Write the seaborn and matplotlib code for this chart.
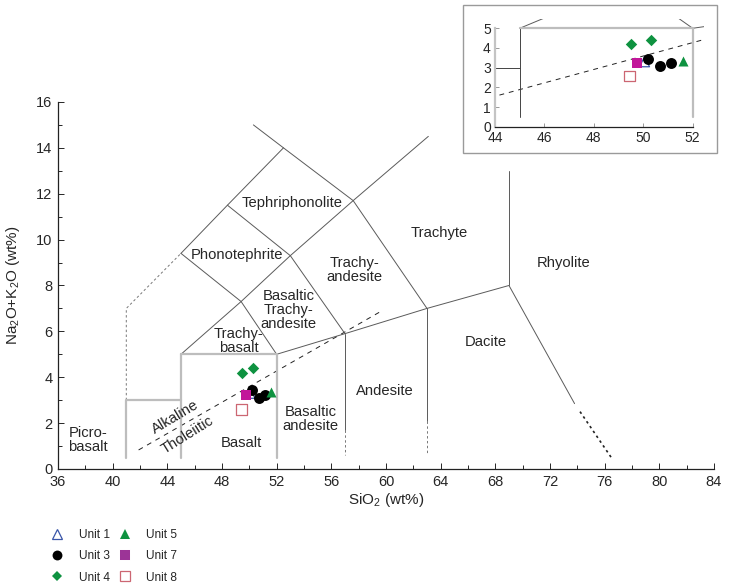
"""
Total alkali vs silica (TAS) classification of lavas by unit,
with an enlarged inset around the basalt field.
"""

import numpy as np
import pandas as pd
import matplotlib
matplotlib.use("Agg")
import matplotlib.pyplot as plt
import seaborn as sns
from matplotlib.lines import Line2D
from matplotlib.patches import Rectangle

# sample analyses: SiO2 and Na2O+K2O (wt%)
unit_names = ["Unit 1", "Unit 3", "Unit 4", "Unit 5", "Unit 7", "Unit 8"]
unit1_sio2, unit1_alk = [50.05], [3.30]
unit3_sio2, unit3_alk = [50.18, 50.68, 51.13], [3.44, 3.10, 3.22]
unit4_sio2, unit4_alk = [49.49, 50.30], [4.19, 4.39]
unit5_sio2, unit5_alk = [51.62], [3.35]
unit7_sio2, unit7_alk = [49.76], [3.22]
unit8_sio2, unit8_alk = [49.44], [2.59]

# TAS field boundaries (Le Bas et al., 1986)
thin_lines = [
    [(45, 9.4), (48.4, 11.5), (52.5, 14.0)],
    [(50.3, 15.0), (52.5, 14.0), (57.6, 11.7), (63, 7.0)],
    [(48.4, 11.5), (53, 9.3), (57, 5.9)],
    [(45, 9.4), (49.4, 7.3), (52, 5.0)],
    [(45, 5.0), (49.4, 7.3), (53, 9.3), (57.6, 11.7), (63.1, 14.5)],
    [(52, 5.0), (57, 5.9), (63, 7.0), (69, 8.0), (73.8, 2.85)],
    [(69, 8.0), (69, 13.0)],
    [(57, 5.9), (57, 1.7)],
    [(63, 7.0), (63, 2.1)],
]
dashed_lines = [
    [(57, 1.7), (57, 0.6)],
    [(63, 2.1), (63, 0.6)],
    [(41, 3.0), (41, 7.0), (45, 9.4)],
]
dotted_end = [(74.2, 2.5), (76.6, 0.4)]
box_left = [(41, 0.5), (41, 3.0), (45, 3.0)]
box_basalt = [(45, 0.5), (45, 5.0), (52, 5.0), (52, 0.5)]
alk_thol = [(41.9, 0.83), (59.8, 6.93)]

field_names = ["Picro-\nbasalt", "Basalt", "Basaltic\nandesite", "Andesite",
               "Dacite", "Rhyolite", "Trachyte", "Trachy-\nandesite",
               "Basaltic\nTrachy-\nandesite", "Trachy-\nbasalt",
               "Phonotephrite", "Tephriphonolite"]
field_x = [38.2, 49.4, 54.5, 59.9, 67.3, 73.0, 63.9, 57.7, 52.85, 49.2, 49.1, 53.1]
field_y = [1.27, 1.15, 2.2, 3.4, 5.55, 8.97, 10.3, 8.68, 6.95, 5.58, 9.33, 11.58]

sns.set_theme(style="ticks")
plt.rcParams["font.family"] = ["Liberation Sans", "DejaVu Sans"]
plt.rcParams["mathtext.fontset"] = "custom"
plt.rcParams["mathtext.rm"] = "Liberation Sans"

frames = []
for name, xs, ys in zip(unit_names,
                        [unit1_sio2, unit3_sio2, unit4_sio2, unit5_sio2, unit7_sio2, unit8_sio2],
                        [unit1_alk, unit3_alk, unit4_alk, unit5_alk, unit7_alk, unit8_alk]):
    frames.append(pd.DataFrame({"unit": name, "sio2": xs, "alk": ys}))
df = pd.concat(frames, ignore_index=True)

styles = {
    "Unit 1": dict(marker="^", color="#3a56a8", facecolor="none", lw=0.9),
    "Unit 3": dict(marker="o", color="black", facecolor="black", lw=0),
    "Unit 4": dict(marker="D", color="#0e9240", facecolor="#0e9240", lw=0),
    "Unit 5": dict(marker="^", color="#0e9240", facecolor="#0e9240", lw=0),
    "Unit 7": dict(marker="s", color="#c2179a", facecolor="#c2179a", lw=0),
    "Unit 8": dict(marker="s", color="#cc6672", facecolor="none", lw=0.9),
}
legend_colors = {"Unit 7": "#9c3497"}
sizes = {"o": 62, "D": 34, "^": 52, "s": 56}


def draw_boundaries(ax, inset=False):
    gray = "#5a5a5a"
    for seg in thin_lines:
        xs, ys = zip(*seg)
        ax.plot(xs, ys, color=gray, lw=0.7)
    for seg in dashed_lines:
        xs, ys = zip(*seg)
        ax.plot(xs, ys, color="#777777", lw=0.7, ls=(0, (2.5, 2.5)))
    xs, ys = zip(*dotted_end)
    ax.plot(xs, ys, color="#222222", lw=1.2, ls=(0, (1.5, 2)))
    box_col, box_lw = ("#444444", 0.7) if inset else ("#bdbdbd", 1.6)
    xs, ys = zip(*box_left)
    ax.plot(xs, ys, color=box_col, lw=box_lw)
    xs, ys = zip(*box_basalt)
    ax.plot(xs[:2], ys[:2], color=box_col, lw=box_lw)
    ax.plot(xs[1:], ys[1:], color="#bdbdbd", lw=1.6)
    xs, ys = zip(*alk_thol)
    ax.plot(xs, ys, color="#222222", lw=0.7, ls=(0, (5, 5)), zorder=1.5)


def draw_points(ax):
    for name in unit_names:
        st = styles[name]
        sub = df[df["unit"] == name]
        sns.scatterplot(data=sub, x="sio2", y="alk", ax=ax, marker=st["marker"],
                        s=sizes[st["marker"]], color=st["color"],
                        facecolor=st["facecolor"], edgecolor=st["color"],
                        linewidth=st["lw"], legend=False, zorder=3)
    ax.set_xlabel("")
    ax.set_ylabel("")


fig = plt.figure(figsize=(7.31, 5.85), dpi=100)
ax = fig.add_axes([0.0793, 0.1983, 0.8974, 0.6274])
draw_boundaries(ax)
draw_points(ax)
for name, x, y in zip(field_names, field_x, field_y):
    ax.text(x, y, name, ha="center", va="center", fontsize=10.6, linespacing=1.0)
ax.text(44.55, 2.27, "Alkaline", rotation=31, ha="center", va="center", fontsize=10.6)
ax.text(45.5, 1.5, "Tholeiitic", rotation=32, ha="center", va="center", fontsize=10.6)

ax.set_xlim(36, 84)
ax.set_ylim(0, 16)
ax.set_xticks(np.arange(36, 85, 4))
ax.set_xticks(np.arange(38, 84, 4), minor=True)
ax.set_yticks(np.arange(0, 17, 2))
ax.set_yticks(np.arange(1, 16, 2), minor=True)
ax.tick_params(which="major", direction="in", length=4, width=0.7, labelsize=10.5, pad=4)
ax.tick_params(which="minor", direction="in", length=3, width=0.7)
sns.despine(ax=ax)
for sp in ["left", "bottom"]:
    ax.spines[sp].set_linewidth(0.9)
    ax.spines[sp].set_color("#222222")
ax.set_xlabel(r"SiO$_\mathregular{2}$ (wt%)", fontsize=11, labelpad=2)
ax.set_ylabel(r"Na$_\mathregular{2}$O+K$_\mathregular{2}$O (wt%)", fontsize=11, labelpad=10)

# inset
fig.add_artist(Rectangle((0.6334, 0.7385), 0.3475, 0.253, transform=fig.transFigure,
                         fill=False, edgecolor="#9a9a9a", lw=1.0))
axi = fig.add_axes([0.6772, 0.7834, 0.2856, 0.1834])
draw_boundaries(axi, inset=True)
draw_points(axi)
axi.set_xlim(44, 52.45)
axi.set_ylim(0, 5.45)
axi.set_xticks(np.arange(44, 53, 2))
axi.set_yticks(np.arange(0, 6, 1))
axi.tick_params(direction="in", length=3, width=0.7, labelsize=10, pad=3, color="#999999")
sns.despine(ax=axi)
axi.spines["left"].set_bounds(0, 5)
axi.spines["left"].set_color("#c4c4c4")
axi.spines["left"].set_linewidth(1.6)
axi.spines["bottom"].set_bounds(44, 52)
axi.spines["bottom"].set_color("#222222")
axi.spines["bottom"].set_linewidth(0.9)
axi.patch.set_alpha(0)

# legend
handles = []
for name in unit_names:
    st = styles[name]
    col = legend_colors.get(name, st["color"])
    fc = "none" if st["facecolor"] == "none" else col
    handles.append(Line2D([], [], ls="none", marker=st["marker"],
                          markersize=np.sqrt(sizes[st["marker"]]) * 0.9,
                          markerfacecolor=fc, markeredgecolor=col,
                          markeredgewidth=max(st["lw"], 0.01)))
fig.legend(handles, unit_names, loc="upper left", bbox_to_anchor=(0.062, 0.106),
           ncol=2, frameon=False, fontsize=8.6, handlelength=1.0, handletextpad=1.28,
           columnspacing=0.77, labelspacing=0.78, borderpad=0)

fig.savefig("out.png", dpi=100)
